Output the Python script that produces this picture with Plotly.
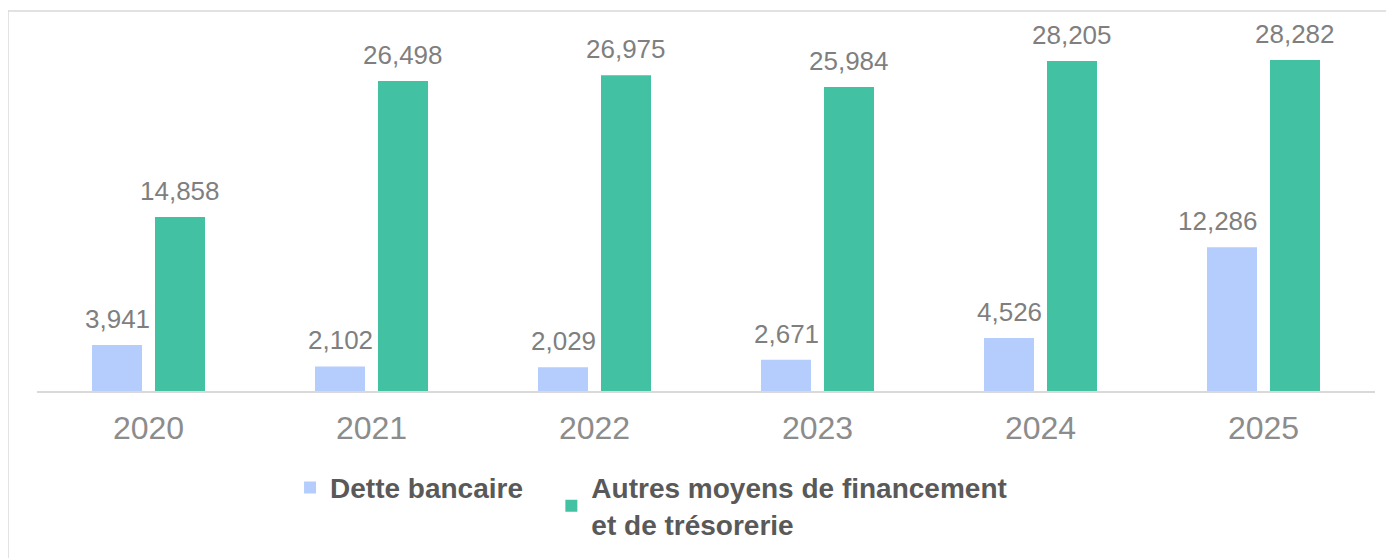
import plotly.graph_objects as go

# Données
annees = ["2020", "2021", "2022", "2023", "2024", "2025"]
dette_bancaire = [3941, 2102, 2029, 2671, 4526, 12286]
autres_moyens = [14858, 26498, 26975, 25984, 28205, 28282]

# espaces insécables pour écarter les deux entrées de légende
NOM_DETTE = "Dette bancaire" + "\u00a0" * 3
NOM_AUTRES = "Autres moyens de financement<br>et de trésorerie"

BLEU = "#B4CDFC"
VERT = "#43C2A3"
GRIS_LABEL = "#7F7F7F"
GRIS_TICK = "#8C8C8C"
GRIS_LEGENDE = "#595959"
GRIS_LIGNE = "#D9D9D9"

FONT = "Liberation Sans, Arial, sans-serif"

fig = go.Figure()
series = [
    (NOM_DETTE, dette_bancaire, BLEU, -31.5),
    (NOM_AUTRES, autres_moyens, VERT, 31.5),
]
for nom, valeurs, couleur, decalage in series:
    fig.add_trace(go.Bar(
        x=annees, y=valeurs, name=nom,
        marker=dict(color=couleur, line_width=0),
    ))
    # étiquettes de valeur un peu au-dessus des barres
    # (x = indice de la catégorie : "2020" serait lu comme un indice)
    for i, v in enumerate(valeurs):
        texte = f"{v:,}"
        ancre, dx = "center", decalage
        if decalage < 0 and len(texte) > 5:
            # étiquette trop large : calée à droite pour ne pas chevaucher la barre verte
            ancre, dx = "right", -3.5
        fig.add_annotation(
            x=i, y=v, text=texte, showarrow=False,
            xanchor=ancre, xshift=dx, yshift=9, yanchor="bottom",
            font=dict(size=26, color=GRIS_LABEL, family=FONT),
        )

# cadre gris clair autour du graphique
fig.add_shape(
    type="rect", xref="paper", yref="paper",
    x0=-0.0217, x1=1.2, y0=-1.0, y1=1.0243,
    line=dict(color=GRIS_LIGNE, width=1.5),
    fillcolor="rgba(0,0,0,0)", layer="below",
)

# la page ajoute 8 px de marge : la figure fait donc 1386 x 550
fig.update_layout(
    width=1386, height=550,
    margin=dict(l=29, r=19, t=12, b=167),
    paper_bgcolor="white", plot_bgcolor="white",
    barmode="group", bargap=0.435, bargroupgap=0.206,
    font=dict(family=FONT),
    xaxis=dict(
        type="category",
        showline=True, linecolor=GRIS_LIGNE, linewidth=1.5,
        showgrid=False, ticks="",
        tickfont=dict(size=32, color=GRIS_TICK, family=FONT),
        ticklabelstandoff=8,
    ),
    yaxis=dict(
        range=[0, 31700], visible=False, showgrid=False, zeroline=False,
    ),
    legend=dict(
        orientation="h", xref="container", yref="container",
        x=0.2035, y=0.173, xanchor="left", yanchor="top",
        font=dict(size=28, color=GRIS_LEGENDE, family=FONT, weight="bold"),
        bgcolor="rgba(0,0,0,0)",
        itemclick=False,
    ),
    showlegend=True,
)

fig.write_html("out.html")
